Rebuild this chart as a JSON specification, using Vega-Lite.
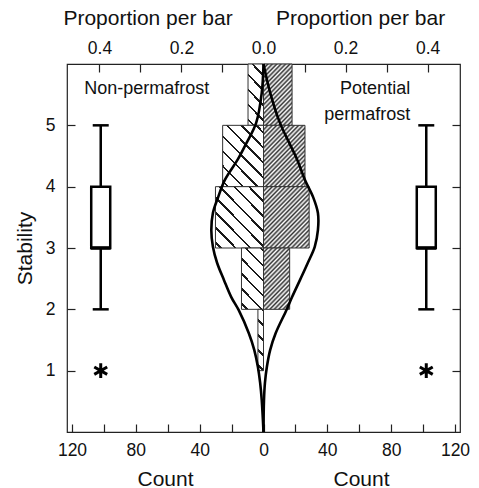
{
  "$schema": "https://vega.github.io/schema/vega-lite/v6.json",
  "width": 393,
  "height": 368,
  "autosize": {"type": "none"},
  "padding": {"left": 67, "top": 64, "right": 19, "bottom": 56},
  "config": {
    "view": {"stroke": "#222", "strokeWidth": 1.2},
    "font": "Liberation Sans",
    "axis": {
      "labelFont": "Liberation Sans",
      "titleFont": "Liberation Sans",
      "labelFontSize": 17.5,
      "titleFontSize": 21,
      "titleFontWeight": "normal",
      "labelColor": "#111",
      "titleColor": "#111",
      "tickColor": "#222",
      "tickWidth": 1.2,
      "grid": false,
      "domain": false,
      "tickSize": -8
    }
  },
  "datasets": {
    "bars": [
      {"group": "Non-permafrost", "bin_start": 5, "bin_end": 6, "count": -9.7},
      {"group": "Non-permafrost", "bin_start": 4, "bin_end": 5, "count": -25.6},
      {"group": "Non-permafrost", "bin_start": 3, "bin_end": 4, "count": -30.1},
      {"group": "Non-permafrost", "bin_start": 2, "bin_end": 3, "count": -13.8},
      {"group": "Non-permafrost", "bin_start": 1, "bin_end": 2, "count": -3.5},
      {"group": "Potential permafrost", "bin_start": 5, "bin_end": 6, "count": 17.9},
      {"group": "Potential permafrost", "bin_start": 4, "bin_end": 5, "count": 26.0},
      {"group": "Potential permafrost", "bin_start": 3, "bin_end": 4, "count": 28.6},
      {"group": "Potential permafrost", "bin_start": 2, "bin_end": 3, "count": 16.4}
    ],
    "density": [
      {"group": "Non-permafrost", "stab": 6.0, "count": 0},
      {"group": "Non-permafrost", "stab": 5.53, "count": -1.1},
      {"group": "Non-permafrost", "stab": 5.04, "count": -4.6},
      {"group": "Non-permafrost", "stab": 4.71, "count": -10.7},
      {"group": "Non-permafrost", "stab": 4.44, "count": -16.2},
      {"group": "Non-permafrost", "stab": 4.11, "count": -24.2},
      {"group": "Non-permafrost", "stab": 3.83, "count": -28.4},
      {"group": "Non-permafrost", "stab": 3.57, "count": -31.7},
      {"group": "Non-permafrost", "stab": 3.29, "count": -32.7},
      {"group": "Non-permafrost", "stab": 3.02, "count": -31.7},
      {"group": "Non-permafrost", "stab": 2.76, "count": -29.1},
      {"group": "Non-permafrost", "stab": 2.48, "count": -24.8},
      {"group": "Non-permafrost", "stab": 2.20, "count": -20.2},
      {"group": "Non-permafrost", "stab": 1.99, "count": -15.6},
      {"group": "Non-permafrost", "stab": 1.61, "count": -9.2},
      {"group": "Non-permafrost", "stab": 1.34, "count": -5.8},
      {"group": "Non-permafrost", "stab": 1.06, "count": -3.5},
      {"group": "Non-permafrost", "stab": 0.80, "count": -2.1},
      {"group": "Non-permafrost", "stab": 0.52, "count": -1.1},
      {"group": "Non-permafrost", "stab": 0.0, "count": 0},
      {"group": "Potential permafrost", "stab": 6.0, "count": 0},
      {"group": "Potential permafrost", "stab": 5.53, "count": 4.2},
      {"group": "Potential permafrost", "stab": 5.04, "count": 10.3},
      {"group": "Potential permafrost", "stab": 4.71, "count": 16.2},
      {"group": "Potential permafrost", "stab": 4.44, "count": 21.1},
      {"group": "Potential permafrost", "stab": 4.11, "count": 26.0},
      {"group": "Potential permafrost", "stab": 3.83, "count": 31.1},
      {"group": "Potential permafrost", "stab": 3.57, "count": 34.1},
      {"group": "Potential permafrost", "stab": 3.29, "count": 34.1},
      {"group": "Potential permafrost", "stab": 3.02, "count": 32.1},
      {"group": "Potential permafrost", "stab": 2.76, "count": 27.8},
      {"group": "Potential permafrost", "stab": 2.48, "count": 22.9},
      {"group": "Potential permafrost", "stab": 2.20, "count": 17.9},
      {"group": "Potential permafrost", "stab": 1.99, "count": 14.4},
      {"group": "Potential permafrost", "stab": 1.61, "count": 7.6},
      {"group": "Potential permafrost", "stab": 1.34, "count": 4.2},
      {"group": "Potential permafrost", "stab": 1.06, "count": 2.1},
      {"group": "Potential permafrost", "stab": 0.80, "count": 0.9},
      {"group": "Potential permafrost", "stab": 0.52, "count": 0.3},
      {"group": "Potential permafrost", "stab": 0.0, "count": 0}
    ],
    "box": [
      {"group": "Non-permafrost", "pos": -102, "min": 2, "q1": 3, "median": 3, "q3": 4, "max": 5, "outlier": 1},
      {"group": "Potential permafrost", "pos": 102, "min": 2, "q1": 3, "median": 3, "q3": 4, "max": 5, "outlier": 1}
    ],
    "labels": [
      {"label": "Non-permafrost", "x": -73.2, "y": 5.59, "side": "left"},
      {"label": "Potential\npermafrost", "x": 91.9, "y": 5.59, "side": "right"}
    ]
  },
  "layer": [
    {
      "data": {"name": "bars"},
      "mark": {"type": "bar", "stroke": "#333", "strokeWidth": 1},
      "encoding": {
        "x": {
          "field": "count", "type": "quantitative",
          "scale": {"domain": [-120, 120], "nice": false, "zero": false},
          "axis": {
            "orient": "bottom",
            "values": [-120, -100, -80, -60, -40, -20, 0, 20, 40, 60, 80, 100, 120],
            "labelExpr": "datum.value % 40 == 0 ? format(abs(datum.value), 'd') : ''",
            "labelPadding": 17.5,
            "labelFlush": false,
            "labelOverlap": false,
            "title": "Count",
            "titleX": 98,
            "titleY": 47,
            "titleBaseline": "middle",
            "titleAlign": "center"
          }
        },
        "x2": {"datum": 0},
        "y": {
          "field": "bin_start", "type": "quantitative",
          "scale": {"domain": [0, 6], "nice": false, "zero": false},
          "axis": {
            "orient": "left",
            "values": [1, 2, 3, 4, 5],
            "labelPadding": 20,
            "title": "Stability",
            "titleX": -42,
            "titleY": 184,
            "titleAngle": -90,
            "titleBaseline": "middle",
            "titleAlign": "center"
          }
        },
        "y2": {"field": "bin_end"},
        "fill": {
          "condition": [
            {"test": "datum.group == 'Non-permafrost' && datum.bin_start == 5", "value": {"gradient": "linear", "x1": 0, "y1": 1, "x2": 0.306, "y2": -0.1795, "stops": [
              {"offset": 0, "color": "#ffffff"}, {"offset": 0.0583, "color": "#ffffff"}, {"offset": 0.0583, "color": "#1a1a1a"}, {"offset": 0.0913, "color": "#1a1a1a"}, {"offset": 0.0913, "color": "#ffffff"},
              {"offset": 0.2525, "color": "#ffffff"}, {"offset": 0.2525, "color": "#1a1a1a"}, {"offset": 0.2855, "color": "#1a1a1a"}, {"offset": 0.2855, "color": "#ffffff"},
              {"offset": 0.4467, "color": "#ffffff"}, {"offset": 0.4467, "color": "#1a1a1a"}, {"offset": 0.4797, "color": "#1a1a1a"}, {"offset": 0.4797, "color": "#ffffff"},
              {"offset": 0.6409, "color": "#ffffff"}, {"offset": 0.6409, "color": "#1a1a1a"}, {"offset": 0.6739, "color": "#1a1a1a"}, {"offset": 0.6739, "color": "#ffffff"},
              {"offset": 0.8351, "color": "#ffffff"}, {"offset": 0.8351, "color": "#1a1a1a"}, {"offset": 0.8681, "color": "#1a1a1a"}, {"offset": 0.8681, "color": "#ffffff"},
              {"offset": 1, "color": "#ffffff"}]}},
            {"test": "datum.group == 'Non-permafrost' && datum.bin_start == 4", "value": {"gradient": "linear", "x1": 0, "y1": 1, "x2": 0.7838, "y2": -0.1472, "stops": [
              {"offset": 0, "color": "#ffffff"}, {"offset": 0.0436, "color": "#ffffff"}, {"offset": 0.0436, "color": "#1a1a1a"}, {"offset": 0.0683, "color": "#1a1a1a"}, {"offset": 0.0683, "color": "#ffffff"},
              {"offset": 0.1889, "color": "#ffffff"}, {"offset": 0.1889, "color": "#1a1a1a"}, {"offset": 0.2136, "color": "#1a1a1a"}, {"offset": 0.2136, "color": "#ffffff"},
              {"offset": 0.3341, "color": "#ffffff"}, {"offset": 0.3341, "color": "#1a1a1a"}, {"offset": 0.3588, "color": "#1a1a1a"}, {"offset": 0.3588, "color": "#ffffff"},
              {"offset": 0.4794, "color": "#ffffff"}, {"offset": 0.4794, "color": "#1a1a1a"}, {"offset": 0.5041, "color": "#1a1a1a"}, {"offset": 0.5041, "color": "#ffffff"},
              {"offset": 0.6246, "color": "#ffffff"}, {"offset": 0.6246, "color": "#1a1a1a"}, {"offset": 0.6493, "color": "#1a1a1a"}, {"offset": 0.6493, "color": "#ffffff"},
              {"offset": 0.7699, "color": "#ffffff"}, {"offset": 0.7699, "color": "#1a1a1a"}, {"offset": 0.7946, "color": "#1a1a1a"}, {"offset": 0.7946, "color": "#ffffff"},
              {"offset": 0.9152, "color": "#ffffff"}, {"offset": 0.9152, "color": "#1a1a1a"}, {"offset": 0.9399, "color": "#1a1a1a"}, {"offset": 0.9399, "color": "#ffffff"},
              {"offset": 1, "color": "#ffffff"}]}},
            {"test": "datum.group == 'Non-permafrost' && datum.bin_start == 3", "value": {"gradient": "linear", "x1": 0, "y1": 1, "x2": 0.8806, "y2": -0.0955, "stops": [
              {"offset": 0, "color": "#ffffff"}, {"offset": 0.0407, "color": "#ffffff"}, {"offset": 0.0407, "color": "#1a1a1a"}, {"offset": 0.0637, "color": "#1a1a1a"}, {"offset": 0.0637, "color": "#ffffff"},
              {"offset": 0.1762, "color": "#ffffff"}, {"offset": 0.1762, "color": "#1a1a1a"}, {"offset": 0.1992, "color": "#1a1a1a"}, {"offset": 0.1992, "color": "#ffffff"},
              {"offset": 0.3118, "color": "#ffffff"}, {"offset": 0.3118, "color": "#1a1a1a"}, {"offset": 0.3348, "color": "#1a1a1a"}, {"offset": 0.3348, "color": "#ffffff"},
              {"offset": 0.4473, "color": "#ffffff"}, {"offset": 0.4473, "color": "#1a1a1a"}, {"offset": 0.4703, "color": "#1a1a1a"}, {"offset": 0.4703, "color": "#ffffff"},
              {"offset": 0.5829, "color": "#ffffff"}, {"offset": 0.5829, "color": "#1a1a1a"}, {"offset": 0.6059, "color": "#1a1a1a"}, {"offset": 0.6059, "color": "#ffffff"},
              {"offset": 0.7184, "color": "#ffffff"}, {"offset": 0.7184, "color": "#1a1a1a"}, {"offset": 0.7414, "color": "#1a1a1a"}, {"offset": 0.7414, "color": "#ffffff"},
              {"offset": 0.8540, "color": "#ffffff"}, {"offset": 0.8540, "color": "#1a1a1a"}, {"offset": 0.8770, "color": "#1a1a1a"}, {"offset": 0.8770, "color": "#ffffff"},
              {"offset": 0.9895, "color": "#ffffff"}, {"offset": 0.9895, "color": "#1a1a1a"}, {"offset": 1, "color": "#1a1a1a"}]}},
            {"test": "datum.group == 'Non-permafrost' && datum.bin_start == 2", "value": {"gradient": "linear", "x1": 0, "y1": 1, "x2": 0.4438, "y2": -0.2045, "stops": [
              {"offset": 0, "color": "#ffffff"}, {"offset": 0.0536, "color": "#ffffff"}, {"offset": 0.0536, "color": "#1a1a1a"}, {"offset": 0.0840, "color": "#1a1a1a"}, {"offset": 0.0840, "color": "#ffffff"},
              {"offset": 0.2323, "color": "#ffffff"}, {"offset": 0.2323, "color": "#1a1a1a"}, {"offset": 0.2627, "color": "#1a1a1a"}, {"offset": 0.2627, "color": "#ffffff"},
              {"offset": 0.4109, "color": "#ffffff"}, {"offset": 0.4109, "color": "#1a1a1a"}, {"offset": 0.4413, "color": "#1a1a1a"}, {"offset": 0.4413, "color": "#ffffff"},
              {"offset": 0.5896, "color": "#ffffff"}, {"offset": 0.5896, "color": "#1a1a1a"}, {"offset": 0.6200, "color": "#1a1a1a"}, {"offset": 0.6200, "color": "#ffffff"},
              {"offset": 0.7683, "color": "#ffffff"}, {"offset": 0.7683, "color": "#1a1a1a"}, {"offset": 0.7987, "color": "#1a1a1a"}, {"offset": 0.7987, "color": "#ffffff"},
              {"offset": 0.9469, "color": "#ffffff"}, {"offset": 0.9469, "color": "#1a1a1a"}, {"offset": 0.9773, "color": "#1a1a1a"}, {"offset": 0.9773, "color": "#ffffff"},
              {"offset": 1, "color": "#ffffff"}]}},
            {"test": "datum.group == 'Non-permafrost' && datum.bin_start == 1", "value": {"gradient": "linear", "x1": 0, "y1": 1, "x2": 0.1007, "y2": -0.0831, "stops": [
              {"offset": 0, "color": "#ffffff"}, {"offset": 0.0671, "color": "#ffffff"}, {"offset": 0.0671, "color": "#1a1a1a"}, {"offset": 0.1051, "color": "#1a1a1a"}, {"offset": 0.1051, "color": "#ffffff"},
              {"offset": 0.2908, "color": "#ffffff"}, {"offset": 0.2908, "color": "#1a1a1a"}, {"offset": 0.3288, "color": "#1a1a1a"}, {"offset": 0.3288, "color": "#ffffff"},
              {"offset": 0.5145, "color": "#ffffff"}, {"offset": 0.5145, "color": "#1a1a1a"}, {"offset": 0.5525, "color": "#1a1a1a"}, {"offset": 0.5525, "color": "#ffffff"},
              {"offset": 0.7382, "color": "#ffffff"}, {"offset": 0.7382, "color": "#1a1a1a"}, {"offset": 0.7762, "color": "#1a1a1a"}, {"offset": 0.7762, "color": "#ffffff"},
              {"offset": 0.9619, "color": "#ffffff"}, {"offset": 0.9619, "color": "#1a1a1a"}, {"offset": 1, "color": "#1a1a1a"}]}},
            {"test": "datum.group == 'Potential permafrost' && datum.bin_start == 5", "value": {"gradient": "linear", "x1": 0, "y1": 0, "x2": 0.5746, "y2": 1.2027, "stops": [
              {"offset": 0, "color": "#333333"}, {"offset": 0.025, "color": "#ffffff"}, {"offset": 0.05, "color": "#333333"}, {"offset": 0.075, "color": "#ffffff"},
              {"offset": 0.1, "color": "#333333"}, {"offset": 0.125, "color": "#ffffff"}, {"offset": 0.15, "color": "#333333"}, {"offset": 0.175, "color": "#ffffff"},
              {"offset": 0.2, "color": "#333333"}, {"offset": 0.225, "color": "#ffffff"}, {"offset": 0.25, "color": "#333333"}, {"offset": 0.275, "color": "#ffffff"},
              {"offset": 0.3, "color": "#333333"}, {"offset": 0.325, "color": "#ffffff"}, {"offset": 0.35, "color": "#333333"}, {"offset": 0.375, "color": "#ffffff"},
              {"offset": 0.4, "color": "#333333"}, {"offset": 0.425, "color": "#ffffff"}, {"offset": 0.45, "color": "#333333"}, {"offset": 0.475, "color": "#ffffff"},
              {"offset": 0.5, "color": "#333333"}, {"offset": 0.525, "color": "#ffffff"}, {"offset": 0.55, "color": "#333333"}, {"offset": 0.575, "color": "#ffffff"},
              {"offset": 0.6, "color": "#333333"}, {"offset": 0.625, "color": "#ffffff"}, {"offset": 0.65, "color": "#333333"}, {"offset": 0.675, "color": "#ffffff"},
              {"offset": 0.7, "color": "#333333"}, {"offset": 0.725, "color": "#ffffff"}, {"offset": 0.75, "color": "#333333"}, {"offset": 0.775, "color": "#ffffff"},
              {"offset": 0.8, "color": "#333333"}, {"offset": 0.825, "color": "#ffffff"}, {"offset": 0.85, "color": "#333333"}, {"offset": 0.875, "color": "#ffffff"},
              {"offset": 0.9, "color": "#333333"}, {"offset": 0.925, "color": "#ffffff"}, {"offset": 0.95, "color": "#333333"}, {"offset": 0.975, "color": "#ffffff"},
              {"offset": 1, "color": "#333333"}]}},
            {"test": "datum.group == 'Potential permafrost' && datum.bin_start == 4", "value": {"gradient": "linear", "x1": 0, "y1": 0, "x2": 0.7938, "y2": 1.1428, "stops": [
              {"offset": 0, "color": "#333333"}, {"offset": 0.0217, "color": "#ffffff"}, {"offset": 0.0435, "color": "#333333"}, {"offset": 0.0652, "color": "#ffffff"},
              {"offset": 0.0870, "color": "#333333"}, {"offset": 0.1087, "color": "#ffffff"}, {"offset": 0.1304, "color": "#333333"}, {"offset": 0.1522, "color": "#ffffff"},
              {"offset": 0.1739, "color": "#333333"}, {"offset": 0.1957, "color": "#ffffff"}, {"offset": 0.2174, "color": "#333333"}, {"offset": 0.2391, "color": "#ffffff"},
              {"offset": 0.2609, "color": "#333333"}, {"offset": 0.2826, "color": "#ffffff"}, {"offset": 0.3043, "color": "#333333"}, {"offset": 0.3261, "color": "#ffffff"},
              {"offset": 0.3478, "color": "#333333"}, {"offset": 0.3696, "color": "#ffffff"}, {"offset": 0.3913, "color": "#333333"}, {"offset": 0.4130, "color": "#ffffff"},
              {"offset": 0.4348, "color": "#333333"}, {"offset": 0.4565, "color": "#ffffff"}, {"offset": 0.4783, "color": "#333333"}, {"offset": 0.5, "color": "#ffffff"},
              {"offset": 0.5217, "color": "#333333"}, {"offset": 0.5435, "color": "#ffffff"}, {"offset": 0.5652, "color": "#333333"}, {"offset": 0.5870, "color": "#ffffff"},
              {"offset": 0.6087, "color": "#333333"}, {"offset": 0.6304, "color": "#ffffff"}, {"offset": 0.6522, "color": "#333333"}, {"offset": 0.6739, "color": "#ffffff"},
              {"offset": 0.6957, "color": "#333333"}, {"offset": 0.7174, "color": "#ffffff"}, {"offset": 0.7391, "color": "#333333"}, {"offset": 0.7609, "color": "#ffffff"},
              {"offset": 0.7826, "color": "#333333"}, {"offset": 0.8043, "color": "#ffffff"}, {"offset": 0.8261, "color": "#333333"}, {"offset": 0.8478, "color": "#ffffff"},
              {"offset": 0.8696, "color": "#333333"}, {"offset": 0.8913, "color": "#ffffff"}, {"offset": 0.9130, "color": "#333333"}, {"offset": 0.9348, "color": "#ffffff"},
              {"offset": 0.9565, "color": "#333333"}, {"offset": 0.9783, "color": "#ffffff"}, {"offset": 1, "color": "#333333"}]}},
            {"test": "datum.group == 'Potential permafrost' && datum.bin_start == 3", "value": {"gradient": "linear", "x1": 0, "y1": 0, "x2": 0.85, "y2": 1.114, "stops": [
              {"offset": 0, "color": "#333333"}, {"offset": 0.0208, "color": "#ffffff"}, {"offset": 0.0417, "color": "#333333"}, {"offset": 0.0625, "color": "#ffffff"},
              {"offset": 0.0833, "color": "#333333"}, {"offset": 0.1042, "color": "#ffffff"}, {"offset": 0.125, "color": "#333333"}, {"offset": 0.1458, "color": "#ffffff"},
              {"offset": 0.1667, "color": "#333333"}, {"offset": 0.1875, "color": "#ffffff"}, {"offset": 0.2083, "color": "#333333"}, {"offset": 0.2292, "color": "#ffffff"},
              {"offset": 0.25, "color": "#333333"}, {"offset": 0.2708, "color": "#ffffff"}, {"offset": 0.2917, "color": "#333333"}, {"offset": 0.3125, "color": "#ffffff"},
              {"offset": 0.3333, "color": "#333333"}, {"offset": 0.3542, "color": "#ffffff"}, {"offset": 0.375, "color": "#333333"}, {"offset": 0.3958, "color": "#ffffff"},
              {"offset": 0.4167, "color": "#333333"}, {"offset": 0.4375, "color": "#ffffff"}, {"offset": 0.4583, "color": "#333333"}, {"offset": 0.4792, "color": "#ffffff"},
              {"offset": 0.5, "color": "#333333"}, {"offset": 0.5208, "color": "#ffffff"}, {"offset": 0.5417, "color": "#333333"}, {"offset": 0.5625, "color": "#ffffff"},
              {"offset": 0.5833, "color": "#333333"}, {"offset": 0.6042, "color": "#ffffff"}, {"offset": 0.625, "color": "#333333"}, {"offset": 0.6458, "color": "#ffffff"},
              {"offset": 0.6667, "color": "#333333"}, {"offset": 0.6875, "color": "#ffffff"}, {"offset": 0.7083, "color": "#333333"}, {"offset": 0.7292, "color": "#ffffff"},
              {"offset": 0.75, "color": "#333333"}, {"offset": 0.7708, "color": "#ffffff"}, {"offset": 0.7917, "color": "#333333"}, {"offset": 0.8125, "color": "#ffffff"},
              {"offset": 0.8333, "color": "#333333"}, {"offset": 0.8542, "color": "#ffffff"}, {"offset": 0.875, "color": "#333333"}, {"offset": 0.8958, "color": "#ffffff"},
              {"offset": 0.9167, "color": "#333333"}, {"offset": 0.9375, "color": "#ffffff"}, {"offset": 0.9583, "color": "#333333"}, {"offset": 0.9792, "color": "#ffffff"},
              {"offset": 1, "color": "#333333"}]}},
            {"test": "datum.group == 'Potential permafrost' && datum.bin_start == 2", "value": {"gradient": "linear", "x1": 0, "y1": 0, "x2": 0.529, "y2": 1.2061, "stops": [
              {"offset": 0, "color": "#333333"}, {"offset": 0.0256, "color": "#ffffff"}, {"offset": 0.0513, "color": "#333333"}, {"offset": 0.0769, "color": "#ffffff"},
              {"offset": 0.1026, "color": "#333333"}, {"offset": 0.1282, "color": "#ffffff"}, {"offset": 0.1538, "color": "#333333"}, {"offset": 0.1795, "color": "#ffffff"},
              {"offset": 0.2051, "color": "#333333"}, {"offset": 0.2308, "color": "#ffffff"}, {"offset": 0.2564, "color": "#333333"}, {"offset": 0.2821, "color": "#ffffff"},
              {"offset": 0.3077, "color": "#333333"}, {"offset": 0.3333, "color": "#ffffff"}, {"offset": 0.3590, "color": "#333333"}, {"offset": 0.3846, "color": "#ffffff"},
              {"offset": 0.4103, "color": "#333333"}, {"offset": 0.4359, "color": "#ffffff"}, {"offset": 0.4615, "color": "#333333"}, {"offset": 0.4872, "color": "#ffffff"},
              {"offset": 0.5128, "color": "#333333"}, {"offset": 0.5385, "color": "#ffffff"}, {"offset": 0.5641, "color": "#333333"}, {"offset": 0.5897, "color": "#ffffff"},
              {"offset": 0.6154, "color": "#333333"}, {"offset": 0.6410, "color": "#ffffff"}, {"offset": 0.6667, "color": "#333333"}, {"offset": 0.6923, "color": "#ffffff"},
              {"offset": 0.7179, "color": "#333333"}, {"offset": 0.7436, "color": "#ffffff"}, {"offset": 0.7692, "color": "#333333"}, {"offset": 0.7949, "color": "#ffffff"},
              {"offset": 0.8205, "color": "#333333"}, {"offset": 0.8462, "color": "#ffffff"}, {"offset": 0.8718, "color": "#333333"}, {"offset": 0.8974, "color": "#ffffff"},
              {"offset": 0.9231, "color": "#333333"}, {"offset": 0.9487, "color": "#ffffff"}, {"offset": 0.9744, "color": "#333333"}, {"offset": 1, "color": "#ffffff"}]}}
          ],
          "value": "#cccccc"
        }
      }
    },
    {
      "data": {"name": "density"},
      "mark": {"type": "line", "stroke": "black", "strokeWidth": 2.6, "interpolate": "catmull-rom"},
      "encoding": {
        "x": {
          "field": "count", "type": "quantitative",
          "scale": {"domain": [-120, 120], "nice": false, "zero": false},
          "axis": {
            "orient": "top",
            "values": [-102.8, -77.1, -51.4, -25.7, 0, 25.7, 51.4, 77.1, 102.8],
            "labelExpr": "abs(datum.value) < 1 ? '0.0' : (abs(abs(datum.value) - 51.4) < 1 ? '0.2' : (abs(abs(datum.value) - 102.8) < 1 ? '0.4' : ''))",
            "labelPadding": 15,
            "labelFlush": false,
            "labelOverlap": false,
            "title": "Proportion per bar",
            "titleX": 80.5,
            "titleY": -46,
            "titleBaseline": "middle",
            "titleAlign": "center"
          }
        },
        "y": {
          "field": "stab", "type": "quantitative",
          "scale": {"domain": [0, 6], "nice": false, "zero": false},
          "axis": {"orient": "right", "values": [1, 2, 3, 4, 5], "labels": false, "title": null}
        },
        "detail": {"field": "group"},
        "order": {"field": "stab", "type": "quantitative"}
      }
    },
    {
      "data": {"name": "box"},
      "mark": {"type": "rule", "strokeWidth": 2.5, "color": "black"},
      "encoding": {
        "x": {
          "field": "pos", "type": "quantitative",
          "scale": {"domain": [-120, 120], "nice": false, "zero": false},
          "axis": {
            "orient": "bottom", "ticks": false, "labels": false,
            "title": "Count", "titleX": 294, "titleY": 47,
            "titleBaseline": "middle", "titleAlign": "center"
          }
        },
        "y": {"field": "min", "type": "quantitative", "scale": {"domain": [0, 6], "nice": false, "zero": false}, "axis": null},
        "y2": {"field": "max"}
      }
    },
    {
      "data": {"name": "box"},
      "mark": {"type": "bar", "size": 19, "fill": "white", "stroke": "black", "strokeWidth": 2.5},
      "encoding": {
        "x": {
          "field": "pos", "type": "quantitative",
          "scale": {"domain": [-120, 120], "nice": false, "zero": false},
          "axis": {
            "orient": "top", "ticks": false, "labels": false,
            "title": "Proportion per bar", "titleX": 293, "titleY": -46,
            "titleBaseline": "middle", "titleAlign": "center"
          }
        },
        "y": {"field": "q1", "type": "quantitative", "scale": {"domain": [0, 6], "nice": false, "zero": false}, "axis": null},
        "y2": {"field": "q3"}
      }
    },
    {
      "data": {"name": "box"},
      "mark": {"type": "tick", "orient": "horizontal", "size": 20, "thickness": 3.5, "color": "black", "opacity": 1},
      "encoding": {
        "x": {"field": "pos", "type": "quantitative", "scale": {"domain": [-120, 120], "nice": false, "zero": false}, "axis": null},
        "y": {"field": "median", "type": "quantitative", "scale": {"domain": [0, 6], "nice": false, "zero": false}, "axis": null}
      }
    },
    {
      "data": {"name": "box"},
      "mark": {"type": "tick", "orient": "horizontal", "size": 16, "thickness": 2.5, "color": "black", "opacity": 1},
      "encoding": {
        "x": {"field": "pos", "type": "quantitative", "scale": {"domain": [-120, 120], "nice": false, "zero": false}, "axis": null},
        "y": {"field": "min", "type": "quantitative", "scale": {"domain": [0, 6], "nice": false, "zero": false}, "axis": null}
      }
    },
    {
      "data": {"name": "box"},
      "mark": {"type": "tick", "orient": "horizontal", "size": 16, "thickness": 2.5, "color": "black", "opacity": 1},
      "encoding": {
        "x": {"field": "pos", "type": "quantitative", "scale": {"domain": [-120, 120], "nice": false, "zero": false}, "axis": null},
        "y": {"field": "max", "type": "quantitative", "scale": {"domain": [0, 6], "nice": false, "zero": false}, "axis": null}
      }
    },
    {
      "data": {"name": "box"},
      "mark": {"type": "point", "shape": "M0,-1L0,1M-0.87,-0.5L0.87,0.5M-0.87,0.5L0.87,-0.5", "size": 220, "filled": false, "stroke": "black", "strokeWidth": 3, "opacity": 1},
      "encoding": {
        "x": {"field": "pos", "type": "quantitative", "scale": {"domain": [-120, 120], "nice": false, "zero": false}, "axis": null},
        "y": {"field": "outlier", "type": "quantitative", "scale": {"domain": [0, 6], "nice": false, "zero": false}, "axis": null}
      }
    },
    {
      "data": {"name": "labels"},
      "transform": [{"filter": "datum.side == 'left'"}],
      "mark": {"type": "text", "font": "Liberation Sans", "fontSize": 18, "align": "center", "baseline": "middle", "color": "#111"},
      "encoding": {
        "x": {"field": "x", "type": "quantitative", "scale": {"domain": [-120, 120], "nice": false, "zero": false}, "axis": null},
        "y": {"field": "y", "type": "quantitative", "scale": {"domain": [0, 6], "nice": false, "zero": false}, "axis": null},
        "text": {"field": "label"}
      }
    },
    {
      "data": {"name": "labels"},
      "transform": [{"filter": "datum.side == 'right'"}],
      "mark": {"type": "text", "font": "Liberation Sans", "fontSize": 18, "align": "right", "baseline": "middle", "lineBreak": "\n", "lineHeight": 26, "color": "#111"},
      "encoding": {
        "x": {"field": "x", "type": "quantitative", "scale": {"domain": [-120, 120], "nice": false, "zero": false}, "axis": null},
        "y": {"field": "y", "type": "quantitative", "scale": {"domain": [0, 6], "nice": false, "zero": false}, "axis": null},
        "text": {"field": "label"}
      }
    }
  ],
  "resolve": {"axis": {"x": "independent", "y": "independent"}}
}
